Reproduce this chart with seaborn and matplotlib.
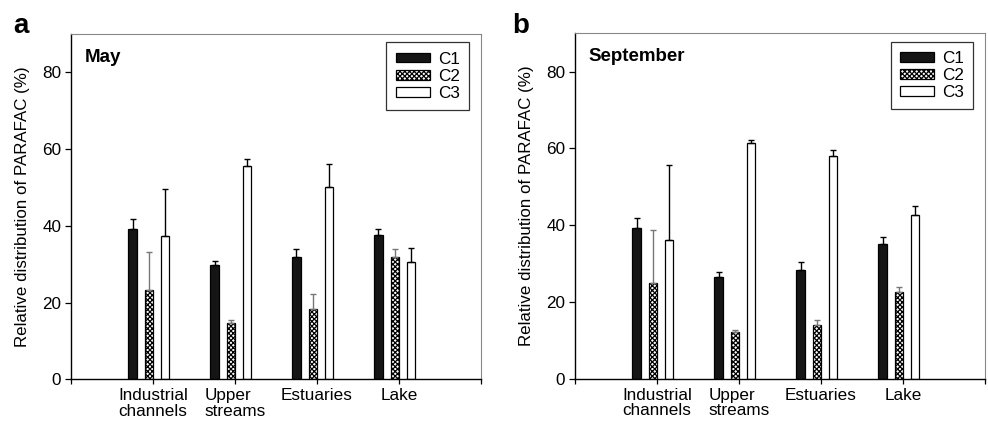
import numpy as np
import pandas as pd
import matplotlib
matplotlib.use('Agg')
import matplotlib.pyplot as plt
import seaborn as sns

# Data
sites = ['Industrial\nchannels', 'Upper\nstreams', 'Estuaries', 'Lake']
components = ['C1', 'C2', 'C3']

may_c1 = [39.1, 29.7, 31.8, 37.7]
may_c2 = [23.4, 14.7, 18.2, 31.8]
may_c3 = [37.4, 55.6, 50.0, 30.5]
may_c1_err = [2.7, 1.2, 2.1, 1.5]
may_c2_err = [9.8, 0.7, 4.1, 2.2]
may_c3_err = [12.1, 1.9, 6.2, 3.8]

sep_c1 = [39.3, 26.6, 28.2, 35.2]
sep_c2 = [24.9, 12.3, 14.1, 22.6]
sep_c3 = [36.1, 61.3, 58.0, 42.6]
sep_c1_err = [2.7, 1.2, 2.1, 1.6]
sep_c2_err = [13.9, 0.3, 1.1, 1.3]
sep_c3_err = [19.6, 1.0, 1.7, 2.4]

sns.set_style('ticks')
plt.rcParams['font.family'] = ['Liberation Sans', 'DejaVu Sans']
plt.rcParams['text.color'] = 'black'
plt.rcParams['axes.labelcolor'] = 'black'
plt.rcParams['xtick.color'] = 'black'
plt.rcParams['ytick.color'] = 'black'
plt.rcParams['hatch.linewidth'] = 0.9


def make_df(c1, c2, c3):
    rows = []
    for comp, vals in zip(components, [c1, c2, c3]):
        for s, v in zip(sites, vals):
            rows.append({'site': s, 'component': comp, 'value': v})
    return pd.DataFrame(rows)


def draw_panel(ax, df, errs, title):
    sns.barplot(data=df, x='site', y='value', hue='component', order=sites,
                hue_order=components, palette=['#151515', 'white', 'white'],
                width=0.6, gap=0.5, edgecolor='black', linewidth=0.9,
                errorbar=None, legend=False, ax=ax)
    # hatch the C2 bars
    for bar in ax.containers[1]:
        bar.set_hatch('xxxxxxx')

    # upward-only error bars, placed from the drawn bars
    ecolors = ['black', '#777777', 'black']
    for cont, err, ec in zip(ax.containers, errs, ecolors):
        xs = [b.get_x() + b.get_width() / 2 for b in cont]
        ys = [b.get_height() for b in cont]
        ax.errorbar(xs, ys, yerr=[np.zeros(len(err)), err], fmt='none',
                    ecolor=ec, elinewidth=1.0, capsize=2, capthick=1.0)

    ax.set_ylim(0, 90)
    ax.set_yticks([0, 20, 40, 60, 80])
    ax.set_xlim(-0.95, 4.05)
    ax.set_xticks([-0.95, 0.05, 1.05, 2.05, 3.05, 4.05])
    ax.set_xticklabels([''] + sites + [''], fontsize=12.3, multialignment='left',
                       linespacing=1.05)
    ax.tick_params(axis='y', labelsize=12.3, length=4, width=0.9, pad=3)
    ax.tick_params(axis='x', length=3.5, width=0.9, pad=3)
    ax.set_xlabel('')
    ax.set_ylabel('Relative distribution of PARAFAC (%)', fontsize=12.2, labelpad=9)

    for side in ['left', 'bottom']:
        ax.spines[side].set_color('black')
        ax.spines[side].set_linewidth(1.0)
    for side in ['top', 'right']:
        ax.spines[side].set_visible(True)
        ax.spines[side].set_color('#888888')
        ax.spines[side].set_linewidth(0.8)

    ax.text(0.033, 0.958, title, transform=ax.transAxes, fontsize=13.5,
            fontweight='bold', va='top', ha='left')

    leg = ax.legend(ax.containers[:3], components, loc='upper right',
                    fontsize=12.3, frameon=True, fancybox=False,
                    handlelength=2.0, handleheight=0.5, handletextpad=0.45,
                    labelspacing=0.12, borderpad=0.55, borderaxespad=0,
                    bbox_to_anchor=(0.9707, 0.976))
    leg.get_frame().set_edgecolor('black')
    leg.get_frame().set_linewidth(0.9)


fig = plt.figure(figsize=(9.88, 4.23), dpi=100)
ax1 = fig.add_axes([0.0719, 0.1033, 0.4149, 0.8163])
ax2 = fig.add_axes([0.582, 0.1047, 0.415, 0.8166])

draw_panel(ax1, make_df(may_c1, may_c2, may_c3),
           [may_c1_err, may_c2_err, may_c3_err], 'May')
draw_panel(ax2, make_df(sep_c1, sep_c2, sep_c3),
           [sep_c1_err, sep_c2_err, sep_c3_err], 'September')

fig.text(0.013, 0.923, 'a', fontsize=20, fontweight='bold', ha='left', va='baseline')
fig.text(0.518, 0.923, 'b', fontsize=20, fontweight='bold', ha='left', va='baseline')

fig.savefig('out.png', dpi=100)
